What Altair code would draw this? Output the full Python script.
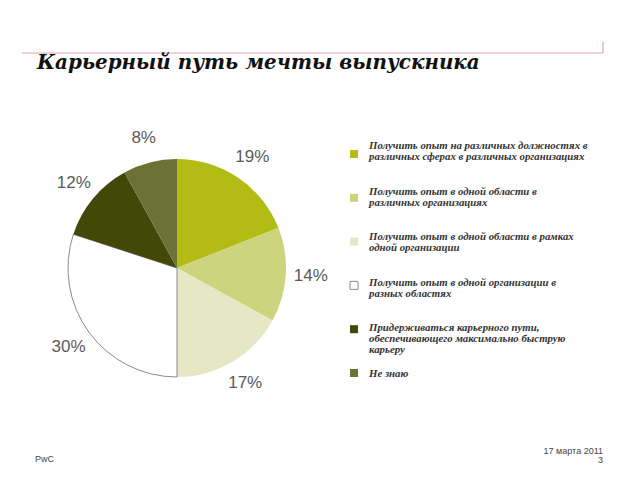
import altair as alt
import pandas as pd

categories = [
    "Получить опыт на различных должностях в\nразличных сферах в различных организациях",
    "Получить опыт в одной области в\nразличных организациях",
    "Получить опыт в одной области в рамках\nодной организации",
    "Получить опыт в одной организации в\nразных областях",
    "Придерживаться карьерного пути,\nобеспечивающего максимально быструю\nкарьеру",
    "Не знаю",
]
values = [19, 14, 17, 30, 12, 8]
labels = ["19%", "14%", "17%", "30%", "12%", "8%"]
colors = ["#b3bb15", "#ccd47d", "#e5e8c5", "#ffffff", "#424808", "#6c7236"]
strokes = ["transparent", "transparent", "transparent", "#8a8a8a", "transparent", "transparent"]

df = pd.DataFrame({
    "cat": categories,
    "value": values,
    "label": labels,
    "order": list(range(len(categories))),
})

color_scale = alt.Scale(domain=categories, range=colors)
stroke_scale = alt.Scale(domain=categories, range=strokes)

CX, CY, R = 177, 268, 109

base = alt.Chart(df)

pie = base.mark_arc(outerRadius=R, strokeWidth=1).encode(
    theta=alt.Theta("value:Q", stack=True),
    order=alt.Order("order:Q"),
    color=alt.Color("cat:N", scale=color_scale, legend=None),
    stroke=alt.Stroke("cat:N", scale=stroke_scale, legend=None),
    x=alt.value(CX), y=alt.value(CY),
)

pct = base.mark_text(radius=134, fontSize=17, font="Liberation Sans", color="#5a5a5a").encode(
    theta=alt.Theta("value:Q", stack=True),
    order=alt.Order("order:Q"),
    text="label:N",
    x=alt.value(CX), y=alt.value(CY),
)

sq = base.mark_square(size=64, opacity=1, strokeWidth=1).encode(
    x=alt.value(354),
    y=alt.Y("cat:N", scale=alt.Scale(domain=categories, type="point", padding=0, range=[154, 373]), axis=None),
    fill=alt.Fill("cat:N", scale=color_scale, legend=None),
    stroke=alt.Stroke("cat:N", scale=stroke_scale, legend=None),
)

leg_text = base.mark_text(
    align="left", baseline="top", lineBreak="\n", font="Liberation Serif",
    fontStyle="italic", fontWeight="bold", fontSize=10.8, lineHeight=11, color="#333333",
).encode(
    x=alt.value(369),
    y=alt.Y("cat:N", scale=alt.Scale(domain=categories, type="point", padding=0, range=[140, 368]), axis=None),
    text="cat:N",
)

title_df = pd.DataFrame({"t": ["Карьерный путь мечты выпускника"]})
title = alt.Chart(title_df).mark_text(
    align="left", baseline="alphabetic", font="DejaVu Serif", fontStyle="italic",
    fontWeight="bold", fontSize=19.9, color="#111111",
).encode(x=alt.value(37), y=alt.value(69), text="t:N")

line_h = alt.Chart(title_df).mark_rule(color="#e3a2b2", strokeWidth=1.2).encode(
    x=alt.value(22), x2=alt.value(603), y=alt.value(53))
line_v = alt.Chart(title_df).mark_rule(color="#e3a2b2", strokeWidth=1.2).encode(
    x=alt.value(603), y=alt.value(42), y2=alt.value(53))

foot_df = pd.DataFrame({"pwc": ["PwC"], "date": ["17 марта  2011"], "page": ["3"]})
foot_pwc = alt.Chart(foot_df).mark_text(align="left", baseline="middle", font="Liberation Sans",
                                        fontSize=9, color="#444444").encode(
    x=alt.value(35), y=alt.value(459), text="pwc:N")
foot_date = alt.Chart(foot_df).mark_text(align="right", baseline="middle", font="Liberation Sans",
                                         fontSize=9, color="#444444").encode(
    x=alt.value(603), y=alt.value(451), text="date:N")
foot_page = alt.Chart(foot_df).mark_text(align="right", baseline="middle", font="Liberation Sans",
                                         fontSize=9, color="#444444").encode(
    x=alt.value(603), y=alt.value(460), text="page:N")

chart = alt.layer(
    line_h, line_v, title, pie, pct, sq, leg_text, foot_pwc, foot_date, foot_page
).resolve_scale(y="independent").properties(
    width=640, height=480, padding=0, autosize=alt.AutoSizeParams(type="none"),
    background="white",
).configure_view(stroke=None)

chart.save("out.html", embed_options={"renderer": "svg", "actions": False})
